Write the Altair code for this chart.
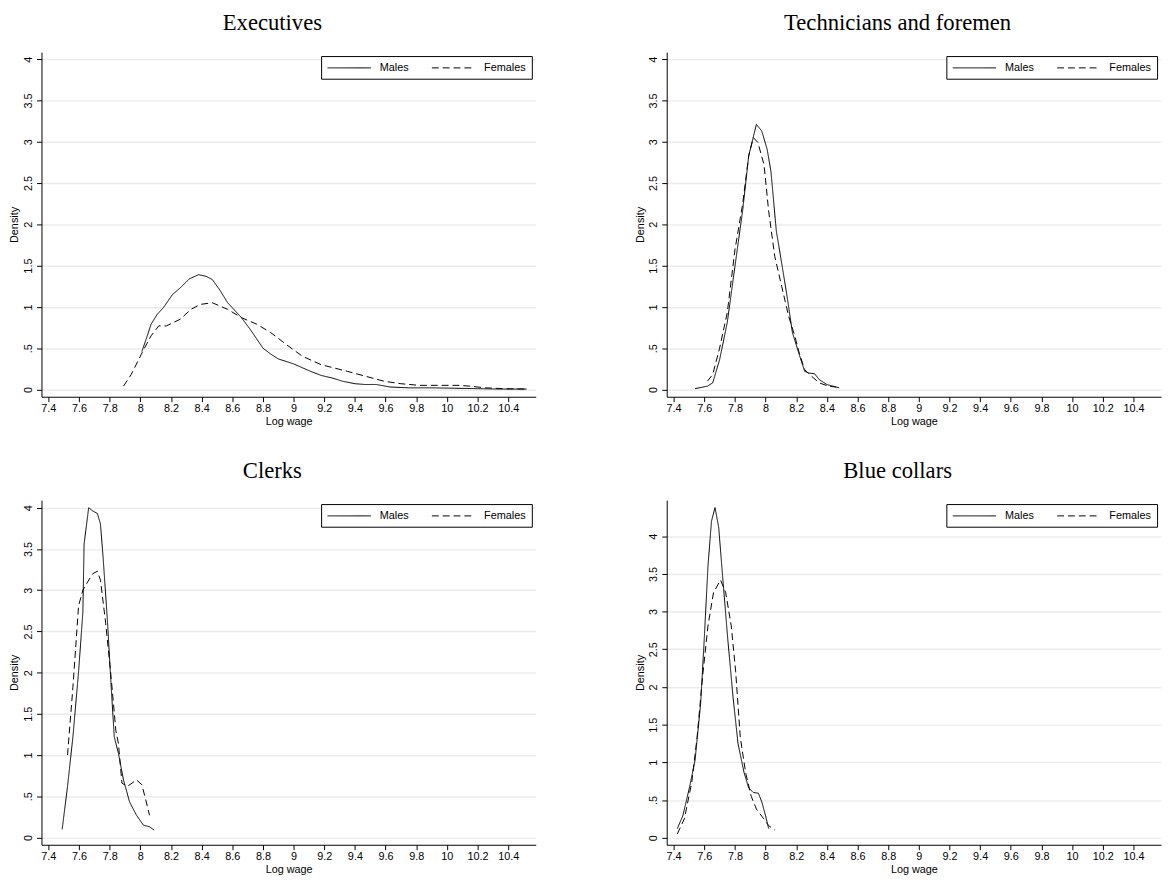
import altair as alt
import pandas as pd

x_ticks = [7.4, 7.6, 7.8, 8.0, 8.2, 8.4, 8.6, 8.8, 9.0, 9.2, 9.4, 9.6, 9.8, 10.0, 10.2, 10.4]
y_ticks = [0, 0.5, 1, 1.5, 2, 2.5, 3, 3.5, 4]
series_names = ["Males", "Females"]

# Executives
exe_m_x = [8.01, 8.04, 8.07, 8.11, 8.15, 8.21, 8.26, 8.32, 8.38, 8.43, 8.47, 8.52, 8.57, 8.62, 8.66, 8.72, 8.80,
           8.85, 8.90, 9.00, 9.11, 9.18, 9.25, 9.32, 9.40, 9.47, 9.54, 9.63, 9.75, 9.90, 10.05, 10.20, 10.35, 10.52]
exe_m_y = [0.46, 0.62, 0.79, 0.91, 0.99, 1.15, 1.23, 1.34, 1.39, 1.37, 1.33, 1.20, 1.05, 0.95, 0.87, 0.72, 0.50,
           0.43, 0.37, 0.31, 0.22, 0.17, 0.14, 0.10, 0.07, 0.06, 0.06, 0.03, 0.02, 0.02, 0.015, 0.01, 0.005, 0.005]
exe_f_x = [7.89, 7.94, 8.01, 8.07, 8.12, 8.17, 8.26, 8.33, 8.39, 8.47, 8.57, 8.66, 8.76, 8.85, 8.97, 9.06, 9.18,
           9.35, 9.47, 9.59, 9.70, 9.82, 9.94, 10.08, 10.15, 10.25, 10.37, 10.52]
exe_f_y = [0.04, 0.18, 0.44, 0.65, 0.77, 0.77, 0.85, 0.97, 1.03, 1.05, 0.97, 0.87, 0.79, 0.69, 0.52, 0.40, 0.30,
           0.22, 0.16, 0.10, 0.07, 0.05, 0.05, 0.05, 0.04, 0.02, 0.01, 0.005]

# Technicians and foremen
tec_m_x = [7.54, 7.62, 7.655, 7.70, 7.75, 7.80, 7.85, 7.89, 7.94, 7.975, 8.01, 8.035, 8.07, 8.105, 8.14, 8.175,
           8.22, 8.255, 8.28, 8.32, 8.35, 8.40, 8.46, 8.48]
tec_m_y = [0.01, 0.04, 0.08, 0.36, 0.81, 1.49, 2.16, 2.83, 3.21, 3.13, 2.91, 2.64, 1.92, 1.53, 1.13, 0.69,
           0.42, 0.22, 0.20, 0.19, 0.12, 0.06, 0.03, 0.02]
tec_f_x = [7.62, 7.655, 7.70, 7.75, 7.80, 7.85, 7.89, 7.92, 7.95, 7.99, 8.02, 8.06, 8.105, 8.15, 8.19, 8.22,
           8.255, 8.30, 8.35, 8.41, 8.46]
tec_f_y = [0.10, 0.18, 0.50, 0.93, 1.69, 2.24, 2.83, 3.05, 2.99, 2.72, 2.16, 1.61, 1.25, 0.89, 0.65, 0.44,
           0.24, 0.16, 0.08, 0.04, 0.03]

# Clerks
cle_m_x = [7.49, 7.525, 7.56, 7.597, 7.625, 7.633, 7.663, 7.69, 7.72, 7.74, 7.757, 7.786, 7.81, 7.83, 7.857,
           7.89, 7.93, 7.975, 8.02, 8.06, 8.09]
cle_m_y = [0.10, 0.62, 1.22, 2.01, 2.73, 3.56, 4.00, 3.96, 3.93, 3.80, 3.40, 2.61, 1.82, 1.22, 1.02,
           0.70, 0.43, 0.27, 0.15, 0.13, 0.09]
cle_f_x = [7.525, 7.56, 7.597, 7.625, 7.656, 7.69, 7.72, 7.74, 7.774, 7.81, 7.84, 7.857, 7.88, 7.915, 7.946,
           7.975, 8.01, 8.035, 8.06]
cle_f_y = [1.00, 1.82, 2.81, 3.00, 3.10, 3.20, 3.23, 3.12, 2.60, 1.93, 1.30, 1.14, 0.66, 0.62, 0.66,
           0.70, 0.64, 0.46, 0.27]

# Blue collars
blu_m_x = [7.424, 7.46, 7.505, 7.54, 7.576, 7.60, 7.624, 7.647, 7.67, 7.694, 7.718, 7.753, 7.788, 7.82, 7.86,
           7.89, 7.92, 7.953, 7.976, 8.00, 8.02]
blu_m_y = [0.12, 0.29, 0.68, 1.03, 1.77, 2.64, 3.60, 4.20, 4.38, 4.12, 3.51, 2.64, 1.86, 1.25, 0.86,
           0.66, 0.60, 0.59, 0.47, 0.29, 0.12]
blu_f_x = [7.424, 7.47, 7.518, 7.553, 7.588, 7.624, 7.66, 7.706, 7.74, 7.776, 7.805, 7.835, 7.87, 7.906, 7.94,
           7.988, 8.02, 8.06]
blu_f_y = [0.05, 0.25, 0.73, 1.33, 2.12, 2.81, 3.25, 3.42, 3.25, 2.81, 2.20, 1.33, 0.86, 0.55, 0.38,
           0.25, 0.16, 0.10]

X_DOMAIN = [7.355, 10.58]
W, H = 502, 350


def panel(title, mx, my, fx, fy, ymin, ymax):
    df = pd.DataFrame({
        "wage": mx + fx,
        "density": my + fy,
        "sex": [series_names[0]] * len(mx) + [series_names[1]] * len(fx),
    })
    return alt.Chart(
        df,
        title=alt.TitleParams(title, font="Liberation Serif", fontSize=23, fontWeight="normal",
                              anchor="middle", frame="bounds", offset=17, color="black"),
    ).mark_line(color="black", strokeWidth=1).encode(
        x=alt.X("wage:Q",
                scale=alt.Scale(domain=X_DOMAIN, nice=False, zero=False),
                axis=alt.Axis(values=x_ticks, title="Log wage", format="~g", grid=False,
                              labelFlush=False, labelOverlap=False, labelPadding=1, titlePadding=2)),
        y=alt.Y("density:Q",
                scale=alt.Scale(domain=[ymin, ymax], nice=False, zero=False),
                axis=alt.Axis(values=y_ticks, title="Density", grid=True, labelAngle=270,
                              labelExpr="datum.value == 0.5 ? '.5' : format(datum.value, '~g')",
                              labelFlush=False, labelOverlap=False, labelPadding=3, titlePadding=3)),
        strokeDash=alt.StrokeDash(
            "sex:N",
            scale=alt.Scale(domain=series_names, range=[[1, 0], [7, 4]]),
            legend=alt.Legend(title=None, orient="top-right", direction="horizontal", offset=4, padding=6,
                              strokeColor="black", fillColor="white", symbolType="M-4,0L4,0", symbolSize=121,
                              symbolOffset=16.5, symbolStrokeWidth=1, symbolStrokeColor="black",
                              labelFont="Liberation Sans", labelFontSize=11, labelColor="black",
                              columnPadding=21, labelOffset=25),
        ),
    ).properties(width=W, height=H)


p1 = panel("Executives", exe_m_x, exe_m_y, exe_f_x, exe_f_y, -0.088, 4.085)
p2 = panel("Technicians and foremen", tec_m_x, tec_m_y, tec_f_x, tec_f_y, -0.088, 4.085)
p3 = panel("Clerks", cle_m_x, cle_m_y, cle_f_x, cle_f_y, -0.088, 4.092)
p4 = panel("Blue collars", blu_m_x, blu_m_y, blu_f_x, blu_f_y, -0.094, 4.479)

top = alt.hconcat(p1, p2, spacing=98).resolve_scale(strokeDash="independent", x="independent", y="independent").resolve_legend(strokeDash="independent")
bottom = alt.hconcat(p3, p4, spacing=98).resolve_scale(strokeDash="independent", x="independent", y="independent").resolve_legend(strokeDash="independent")

chart = alt.vconcat(top, bottom, spacing=33).resolve_scale(
    strokeDash="independent", x="independent", y="independent"
).resolve_legend(strokeDash="independent").properties(
    padding={"left": 0, "top": -3, "right": 0, "bottom": 0},
    background="white",
).configure_axis(
    labelFont="Liberation Sans", titleFont="Liberation Sans", labelFontSize=11, titleFontSize=11,
    titleFontWeight="normal", labelColor="black", titleColor="black", domainColor="black",
    tickColor="black", gridColor="#ebebeb", gridWidth=1.5, tickSize=5, domainWidth=1, tickWidth=1,
).configure_view(stroke="transparent")

chart.save("out.html", embed_options={"renderer": "svg", "actions": False})
